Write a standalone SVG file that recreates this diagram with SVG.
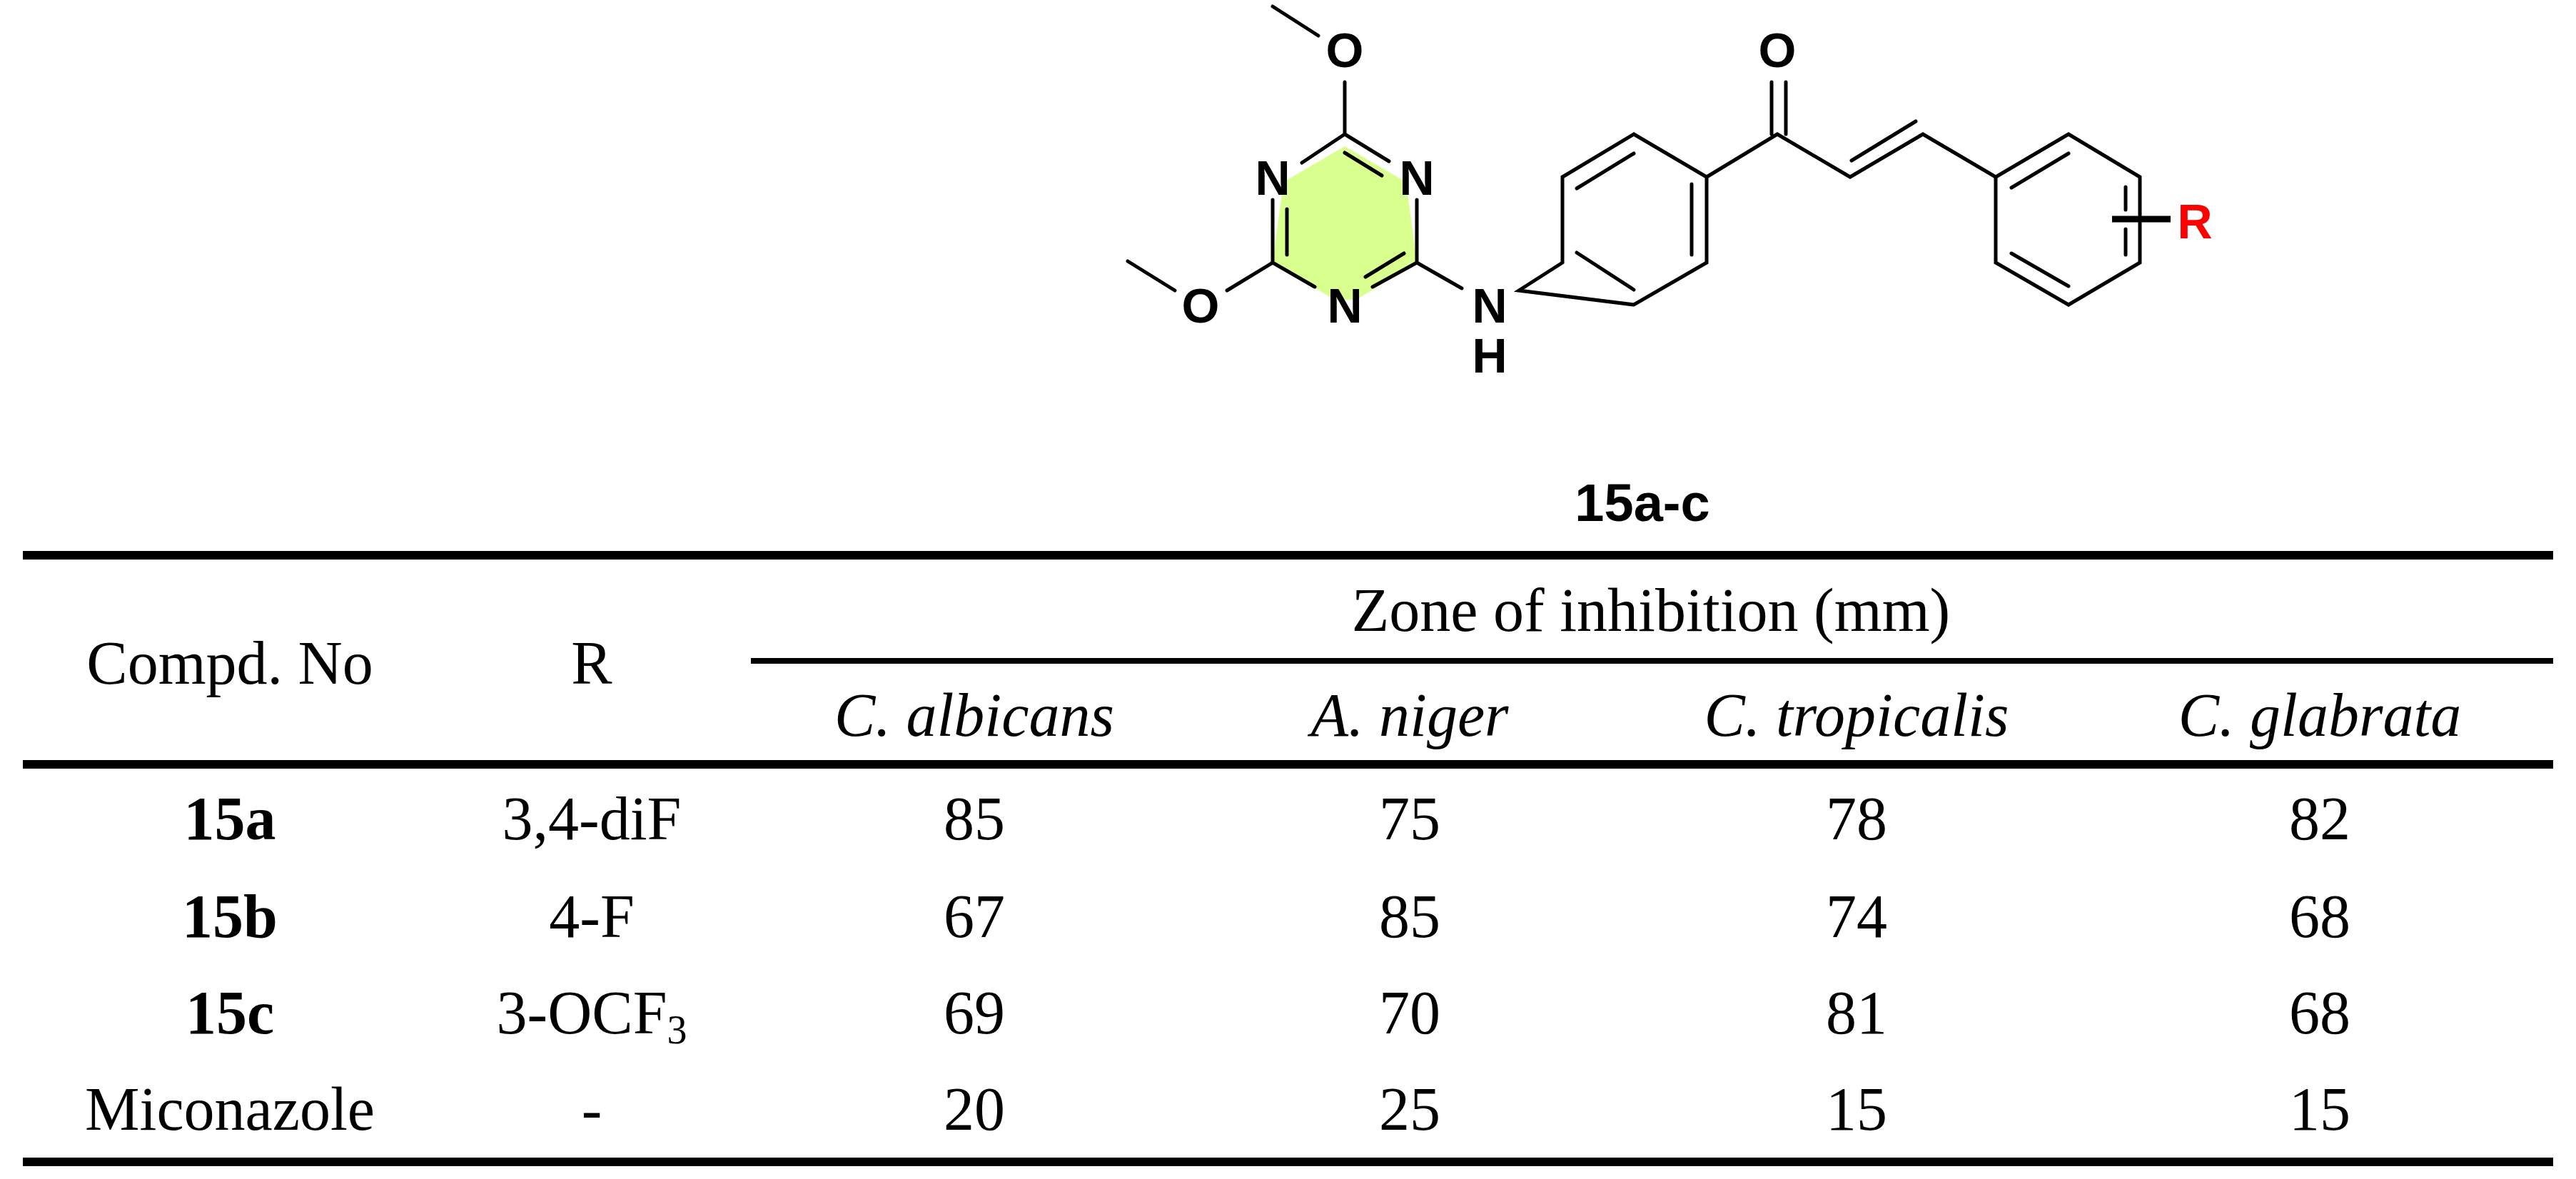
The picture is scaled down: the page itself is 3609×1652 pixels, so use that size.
<svg xmlns="http://www.w3.org/2000/svg" width="3609" height="1652" viewBox="0 0 3609 1652">
<style>
.b{stroke:#000;stroke-width:5;fill:none;stroke-linecap:round}
.a{font-family:"Liberation Sans",Arial,sans-serif;font-weight:bold;font-size:68px;text-anchor:middle}
.t{font-family:"Liberation Serif","Times New Roman",serif;font-size:86px;text-anchor:middle}
.i{font-style:italic}
.bd{font-weight:bold}
</style>
<rect width="3609" height="1652" fill="#fff"/>
<g id="molecule">
<polygon points="1884,205 1970,255 1985,368 1900,420 1870,420 1783,368 1798,255" fill="#d9ff8f"/>
<g id="bonds">
<path class="b" d="M1783,9 L1847,50 M1884,115 L1884,188 L1824,228 M1884,188 L1946,226 M1884,214 L1936,246 M1783,280 L1783,368 L1842,402 M1803,293 L1803,357 M1985,280 L1985,368 L1923,402 M1913,388 L1967,355 M1985,368 L2048,404 M1783,368 L1719,407 M1646,407 L1580,366"/>
<path class="b" d="M2128,407 L2189,368 L2189,248 L2289,188 L2391,248 L2391,368 L2289,427 Z M2209,264 L2289,215 M2370,258 L2370,357 M2209,354 L2289,406"/>
<path class="b" d="M2391,248 L2490,188 L2592,248 L2694,188 L2796,248 M2482,115 L2482,188 M2502,115 L2502,188 M2594,225 L2684,170"/>
<path class="b" d="M2796,248 L2898,188 L2998,248 L2998,368 L2898,427 L2796,368 Z M2818,263 L2898,215 M2978,262 L2978,294 M2978,321 L2978,357 M2818,355 L2898,401"/>
<path d="M2959,307 L3041,307" stroke="#000" stroke-width="9"/>
</g>
<g id="labels">
<text class="a" x="1884" y="94">O</text>
<text class="a" x="2490" y="94">O</text>
<text class="a" x="1783" y="273">N</text>
<text class="a" x="1985" y="273">N</text>
<text class="a" x="1884" y="452">N</text>
<text class="a" x="1682" y="452">O</text>
<text class="a" x="2087" y="452">N</text>
<text class="a" x="2087" y="522">H</text>
<text class="a" x="3075" y="334" fill="#ff0000">R</text>
</g>
</g>
<text class="a" x="2301" y="730" style="font-size:74px">15a-c</text>
<g id="table">
<rect x="32" y="772" width="3545" height="12"/>
<rect x="1052" y="922" width="2525" height="8"/>
<rect x="32" y="1065" width="3545" height="12"/>
<rect x="32" y="1622" width="3545" height="12"/>
<g class="t">
<text x="2313" y="884">Zone of inhibition (mm)</text>
<text x="322" y="958">Compd. No</text>
<text x="829" y="958">R</text>
<text class="i" x="1365" y="1031">C. albicans</text>
<text class="i" x="1975" y="1031">A. niger</text>
<text class="i" x="2601" y="1031">C. tropicalis</text>
<text class="i" x="3250" y="1031">C. glabrata</text>
<text class="bd" x="322" y="1176">15a</text><text x="829" y="1176">3,4-diF</text><text x="1365" y="1176">85</text><text x="1975" y="1176">75</text><text x="2601" y="1176">78</text><text x="3250" y="1176">82</text>
<text class="bd" x="322" y="1313">15b</text><text x="829" y="1313">4-F</text><text x="1365" y="1313">67</text><text x="1975" y="1313">85</text><text x="2601" y="1313">74</text><text x="3250" y="1313">68</text>
<text class="bd" x="322" y="1448">15c</text><text x="829" y="1448">3-OCF<tspan font-size="56" dy="14">3</tspan></text><text x="1365" y="1448">69</text><text x="1975" y="1448">70</text><text x="2601" y="1448">81</text><text x="3250" y="1448">68</text>
<text x="322" y="1583">Miconazole</text><text x="829" y="1583">-</text><text x="1365" y="1583">20</text><text x="1975" y="1583">25</text><text x="2601" y="1583">15</text><text x="3250" y="1583">15</text>
</g>
</g>
</svg>
